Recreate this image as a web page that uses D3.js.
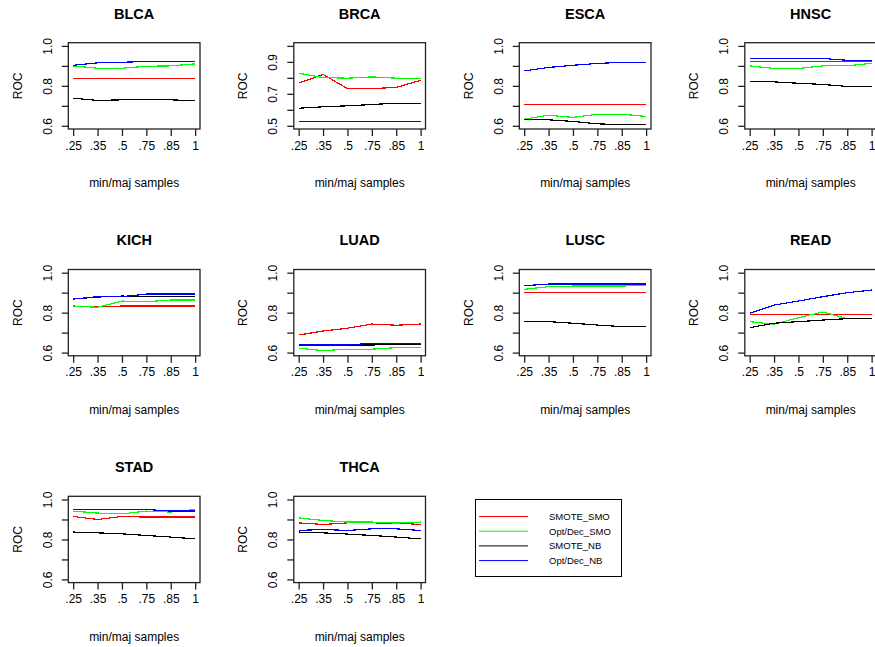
<!DOCTYPE html>
<html>
<head>
<meta charset="utf-8">
<script src="https://cdn.jsdelivr.net/npm/d3@7"></script>
<style>
  body { margin: 0; background: #fff; }
  text { font-family: "Liberation Sans", Arial, sans-serif; fill: #000; }
</style>
</head>
<body>
<div id="chart"></div>
<script>

// x positions are the 6 sampling ratios, drawn at 1..6 like R does
var xLabels = [".25", ".35", ".5", ".75", ".85", "1"];
var seriesNames = ["SMOTE_SMO", "Opt/Dec_SMO", "SMOTE_NB", "Opt/Dec_NB"];
var seriesColors = ["#ff0000", "#00ff00", "#000000", "#0000ff"];
var panelNames = ["BLCA", "BRCA", "ESCA", "HNSC", "KICH", "LUAD", "LUSC", "READ", "STAD", "THCA"];
// y limits per panel (before R's 4% padding)
var yLimits = [[0.6, 1], [0.5, 1], [0.6, 1], [0.6, 1], [0.6, 1], [0.6, 1], [0.6, 1], [0.6, 1], [0.6, 1], [0.6, 1]];

// values per panel, series order: SMOTE_SMO, Opt/Dec_SMO, SMOTE_NB, Opt/Dec_NB
var blca = [[0.838, 0.838, 0.838, 0.838, 0.838, 0.838],
            [0.900, 0.888, 0.888, 0.898, 0.900, 0.910],
            [0.738, 0.727, 0.730, 0.730, 0.730, 0.725],
            [0.903, 0.915, 0.918, 0.922, 0.922, 0.922]];
var brca = [[0.767, 0.821, 0.733, 0.733, 0.740, 0.785],
            [0.829, 0.802, 0.798, 0.806, 0.798, 0.798],
            [0.610, 0.619, 0.625, 0.633, 0.642, 0.642],
            [0.527, 0.527, 0.527, 0.527, 0.527, 0.527]];
var esca = [[0.707, 0.707, 0.707, 0.707, 0.707, 0.707],
            [0.633, 0.653, 0.642, 0.658, 0.658, 0.647],
            [0.630, 0.630, 0.622, 0.610, 0.605, 0.605],
            [0.875, 0.892, 0.903, 0.912, 0.918, 0.918]];
var hnsc = [[0.923, 0.923, 0.923, 0.923, 0.923, 0.922],
            [0.900, 0.887, 0.887, 0.900, 0.900, 0.913],
            [0.823, 0.820, 0.813, 0.807, 0.797, 0.797],
            [0.937, 0.937, 0.937, 0.937, 0.928, 0.925]];
var kich = [[0.833, 0.830, 0.833, 0.833, 0.833, 0.833],
            [0.833, 0.827, 0.858, 0.855, 0.863, 0.863],
            [0.868, 0.878, 0.883, 0.880, 0.880, 0.880],
            [0.868, 0.880, 0.880, 0.893, 0.893, 0.893]];
var luad = [[0.688, 0.708, 0.722, 0.743, 0.737, 0.743],
            [0.622, 0.610, 0.617, 0.617, 0.625, 0.625],
            [0.638, 0.638, 0.638, 0.638, 0.643, 0.643],
            [0.638, 0.638, 0.638, 0.647, 0.647, 0.647]];
var lusc = [[0.900, 0.900, 0.900, 0.900, 0.900, 0.900],
            [0.917, 0.930, 0.933, 0.933, 0.933, 0.938],
            [0.755, 0.755, 0.747, 0.738, 0.730, 0.730],
            [0.935, 0.943, 0.943, 0.943, 0.943, 0.943]];
var read = [[0.790, 0.790, 0.790, 0.790, 0.790, 0.790],
            [0.755, 0.742, 0.775, 0.803, 0.770, 0.770],
            [0.725, 0.747, 0.755, 0.763, 0.770, 0.770],
            [0.797, 0.838, 0.858, 0.880, 0.900, 0.913]];
var stad = [[0.915, 0.900, 0.915, 0.912, 0.912, 0.912],
            [0.942, 0.932, 0.928, 0.942, 0.937, 0.950],
            [0.837, 0.833, 0.828, 0.820, 0.812, 0.803],
            [0.950, 0.950, 0.950, 0.950, 0.942, 0.942]];
var thca = [[0.883, 0.875, 0.883, 0.883, 0.882, 0.875],
            [0.908, 0.895, 0.887, 0.887, 0.882, 0.887],
            [0.837, 0.833, 0.827, 0.820, 0.812, 0.803],
            [0.845, 0.850, 0.845, 0.853, 0.853, 0.845]];

var panelData = [blca, brca, esca, hnsc, kich, luad, lusc, read, stad, thca];

var width = 875, height = 647;
var panelW = 225.5, panelH = 226.8;
var box = {left: 68.3, right: 200, top: 42.7, bottom: 129};

var svg = d3.select("#chart").append("svg")
    .attr("width", width)
    .attr("height", height);

var x = d3.scaleLinear().domain([0.8, 6.2]).range([box.left, box.right]);
var fmt = d3.format(".1f");

panelNames.forEach(function (name, i) {
    var col = i % 4, row = Math.floor(i / 4);
    var g = svg.append("g")
        .attr("transform", "translate(" + (col * panelW) + "," + (row * panelH) + ")");

    var lim = yLimits[i], pad = (lim[1] - lim[0]) * 0.04;
    var y = d3.scaleLinear().domain([lim[0] - pad, lim[1] + pad]).range([box.bottom, box.top]);

    // title
    g.append("text")
        .attr("x", (box.left + box.right) / 2)
        .attr("y", 18.5)
        .attr("text-anchor", "middle")
        .style("font-size", "14.5px")
        .style("font-weight", "bold")
        .text(name);

    // lines (no antialiasing, like the R png device)
    var line = d3.line()
        .x(function (d, j) { return x(j + 1); })
        .y(function (d) { return y(d); });

    panelData[i].forEach(function (vals, s) {
        g.append("path")
            .datum(vals)
            .attr("d", line)
            .attr("fill", "none")
            .attr("stroke", seriesColors[s])
            .attr("stroke-width", 1.2)
            .attr("shape-rendering", "crispEdges");
    });

    // box
    g.append("rect")
        .attr("x", box.left)
        .attr("y", box.top)
        .attr("width", box.right - box.left)
        .attr("height", box.bottom - box.top)
        .attr("fill", "none")
        .attr("stroke", "#222")
        .attr("stroke-width", 1.3);

    // x axis
    var xAxis = d3.axisBottom(x)
        .tickValues(d3.range(1, 7))
        .tickFormat(function (d) { return xLabels[d - 1]; })
        .tickSize(7)
        .tickPadding(5);
    var gx = g.append("g")
        .attr("transform", "translate(0," + box.bottom + ")")
        .call(xAxis);
    gx.select(".domain").remove();
    gx.selectAll("line").attr("stroke-width", 1.3).attr("stroke", "#222");
    gx.selectAll("text")
        .style("font-size", "12px")
        .style("font-family", "Liberation Sans, Arial, sans-serif");

    // y axis (R drops every other label when they would overlap)
    var yTicks = d3.range(Math.round(lim[0] * 10), Math.round(lim[1] * 10) + 1).map(function (d) { return d / 10; });
    var yAxis = d3.axisLeft(y)
        .tickValues(yTicks)
        .tickFormat(function (d, j) { return j % 2 === 0 ? fmt(d) : ""; })
        .tickSize(6.5)
        .tickPadding(3);
    var gy = g.append("g")
        .attr("transform", "translate(" + box.left + ",0)")
        .call(yAxis);
    gy.select(".domain").remove();
    gy.selectAll("line").attr("stroke-width", 1.3).attr("stroke", "#222");
    gy.selectAll("text")
        .attr("x", null).attr("dy", null)
        .attr("transform", "translate(-16.5,0) rotate(-90)")
        .attr("text-anchor", "middle")
        .style("font-size", "12px")
        .style("font-family", "Liberation Sans, Arial, sans-serif");

    // axis titles
    g.append("text")
        .attr("x", (box.left + box.right) / 2)
        .attr("y", 187)
        .attr("text-anchor", "middle")
        .style("font-size", "12px")
        .text("min/maj samples");

    g.append("text")
        .attr("transform", "translate(21.7," + ((box.top + box.bottom) / 2) + ") rotate(-90)")
        .attr("text-anchor", "middle")
        .style("font-size", "12px")
        .text("ROC");
});

// legend
var legend = svg.append("g");
legend.append("rect")
    .attr("x", 475.5).attr("y", 499.5)
    .attr("width", 146).attr("height", 77)
    .attr("fill", "none")
    .attr("stroke", "#000");

seriesNames.forEach(function (s, k) {
    var ly = 516.5 + k * 14.7;
    legend.append("line")
        .attr("x1", 479).attr("x2", 528)
        .attr("y1", ly).attr("y2", ly)
        .attr("stroke", seriesColors[k])
        .attr("stroke-width", 1);
    legend.append("text")
        .attr("x", 549)
        .attr("y", ly + 3.5)
        .style("font-size", "9.5px")
        .text(s);
});
</script>
</body>
</html>
